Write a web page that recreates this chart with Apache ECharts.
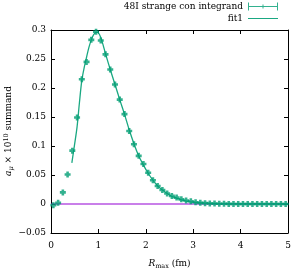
<!DOCTYPE html>
<html><head><meta charset="utf-8">
<script src="https://cdn.jsdelivr.net/npm/echarts@6/dist/echarts.min.js"></script>
<style>html,body{margin:0;padding:0;background:#fff}#c{width:291px;height:269px}</style>
</head><body><div id="c"></div>
<script>
var rmax = [0.05,0.15,0.25,0.35,0.45,0.55,0.65,0.75,0.85,0.95,1.05,1.15,1.25,1.35,1.45,1.55,1.65,1.75,1.85,1.95,2.05,2.15,2.25,2.35,2.45,2.55,2.65,2.75,2.85,2.95,3.05,3.15,3.25,3.35,3.45,3.55,3.65,3.75,3.85,3.95,4.05,4.15,4.25,4.35,4.45,4.55,4.65,4.75,4.85,4.95];
var summand = [-0.002,0.002,0.020,0.051,0.092,0.149,0.215,0.245,0.283,0.297,0.282,0.258,0.232,0.206,0.180,0.155,0.126,0.103,0.083,0.069,0.054,0.041,0.031,0.024,0.018,0.014,0.011,0.008,0.006,0.0046,0.003,0.002,0.0015,0.001,0.0007,0.0005,0.0003,0.0002,0.0001,0.0001,0,0,0,0,0,0,0,0,0,0];
var fitX = [0.44,0.5,0.55,0.6,0.65,0.7,0.75,0.8,0.85,0.9,0.95,1.0,1.05,1.1,1.15,1.25,1.35,1.45,1.55,1.65,1.75,1.85,1.95,2.05,2.15,2.25,2.35,2.45,2.55,2.65,2.75,2.85,3.0,3.25,3.5,4.0,4.5,5.0];
var fitY = [0.071,0.104,0.133,0.175,0.213,0.235,0.253,0.270,0.283,0.292,0.296,0.295,0.287,0.274,0.259,0.232,0.206,0.180,0.155,0.128,0.104,0.083,0.067,0.053,0.041,0.031,0.024,0.018,0.013,0.010,0.007,0.005,0.003,0.0015,0.0007,0.0002,0.0001,0.0];
var zeroX = [0, 5];
var zeroY = [0, 0];
var xTicks = [0,1,2,3,4,5];
var yTicks = [-0.05,0,0.05,0.1,0.15,0.2,0.25,0.3];

var green = '#009e73';
var fitColor = '#1aa882';
var font = 'DejaVu Serif';
var fs = 9;
function zip(a,b){return a.map(function(v,i){return [v,b[i]];});}
var plus = 'path://M2,0h3v2h2v3h-2v2h-3v-2h-2v-3h2z';
var ebIcon = 'path://M0,0h1v8h-1z M1,3.5h28v1h-28z M14.5,2h1v4h-1z M29,0h1v8h-1z';
var lineIcon = 'path://M0,0h0.01v0.01h-0.01z M0,3.4h30v1.2h-30z M29.99,7.99h0.01v0.01h-0.01z';

var chart = echarts.init(document.getElementById('c'), null, {renderer:'canvas'});
chart.setOption({
  animation:false,
  backgroundColor:'#fff',
  grid:{left:51,right:3,top:30,bottom:36,containLabel:false,outerBoundsMode:'none'},
  legend:{
    orient:'vertical', right:8, top:-3, align:'right', itemGap:3,
    itemWidth:30, itemHeight:8,
    textStyle:{fontFamily:font,fontSize:fs,color:'#000',padding:[0,0,0,0]},
    data:[
      {name:'48I strange con integrand',icon:ebIcon,itemStyle:{color:green}},
      {name:'fit1',icon:lineIcon,itemStyle:{color:fitColor,borderWidth:0},lineStyle:{color:fitColor,width:1.3}}
    ]
  },
  graphic:[{
    type:'text', x:9, y:131, rotation:Math.PI/2,
    style:{
      text:'{i|a}{s|μ} × 10{p|10} summand',
      align:'center', verticalAlign:'middle', fill:'#000',
      font: fs+'px "'+font+'"',
      rich:{i:{fontFamily:font,fontStyle:'italic',fontSize:fs},s:{fontFamily:font,fontStyle:'italic',fontSize:6.5,padding:[5,0,0,0]},p:{fontFamily:font,fontSize:6.5,padding:[0,0,5,0]}}
    }
  }],
  xAxis:[{
    type:'value', min:0, max:5, interval:1,
    name:'{i|R}{s|max} (fm)', nameLocation:'middle', nameGap:25,
    nameTextStyle:{fontFamily:font,fontSize:fs,color:'#000',rich:{i:{fontFamily:font,fontStyle:'italic',fontSize:fs},s:{fontFamily:font,fontSize:6.5,padding:[5,0,0,0]}}},
    axisLine:{show:true,onZero:false,lineStyle:{color:'#000',width:1}},
    axisTick:{inside:true,length:4,lineStyle:{color:'#000'}},
    axisLabel:{fontFamily:font,fontSize:fs,color:'#000',margin:8,formatter:function(v){return xTicks.indexOf(v)>=0?String(v):'';}},
    splitLine:{show:false}
  },{
    type:'value', min:0, max:5, interval:1, position:'top',
    axisLine:{show:true,onZero:false,lineStyle:{color:'#000',width:1}},
    axisTick:{inside:true,length:4,lineStyle:{color:'#000'}},
    axisLabel:{show:false}, splitLine:{show:false}
  }],
  yAxis:[{
    type:'value', min:-0.05, max:0.3, interval:0.05,
    axisLine:{show:true,onZero:false,lineStyle:{color:'#000',width:1}},
    axisTick:{inside:true,length:4,lineStyle:{color:'#000'}},
    axisLabel:{fontFamily:font,fontSize:fs,color:'#000',margin:5,formatter:function(v){var r=Math.round(v*100)/100; if(Math.abs(r)<1e-9) return '0'; return (r<0?'\u2212':'')+String(Math.abs(r));}},
    splitLine:{show:false}
  },{
    type:'value', min:-0.05, max:0.3, interval:0.05, position:'right',
    axisLine:{show:true,onZero:false,lineStyle:{color:'#000',width:1}},
    axisTick:{inside:true,length:4,lineStyle:{color:'#000'}},
    axisLabel:{show:false}, splitLine:{show:false}
  }],
  series:[
    {name:'zero', type:'line', data:zip(zeroX,zeroY), symbol:'none', lineStyle:{color:'#9400d3',width:1.2}, z:1},
    {name:'fit1', type:'line', data:zip(fitX,fitY), symbol:'none', smooth:0.3, lineStyle:{color:fitColor,width:1.3}, itemStyle:{color:fitColor}, z:2},
    {name:'48I strange con integrand', type:'scatter', data:zip(rmax,summand), symbol:plus, symbolSize:6, itemStyle:{color:green}, z:3}
  ]
});
</script></body></html>
